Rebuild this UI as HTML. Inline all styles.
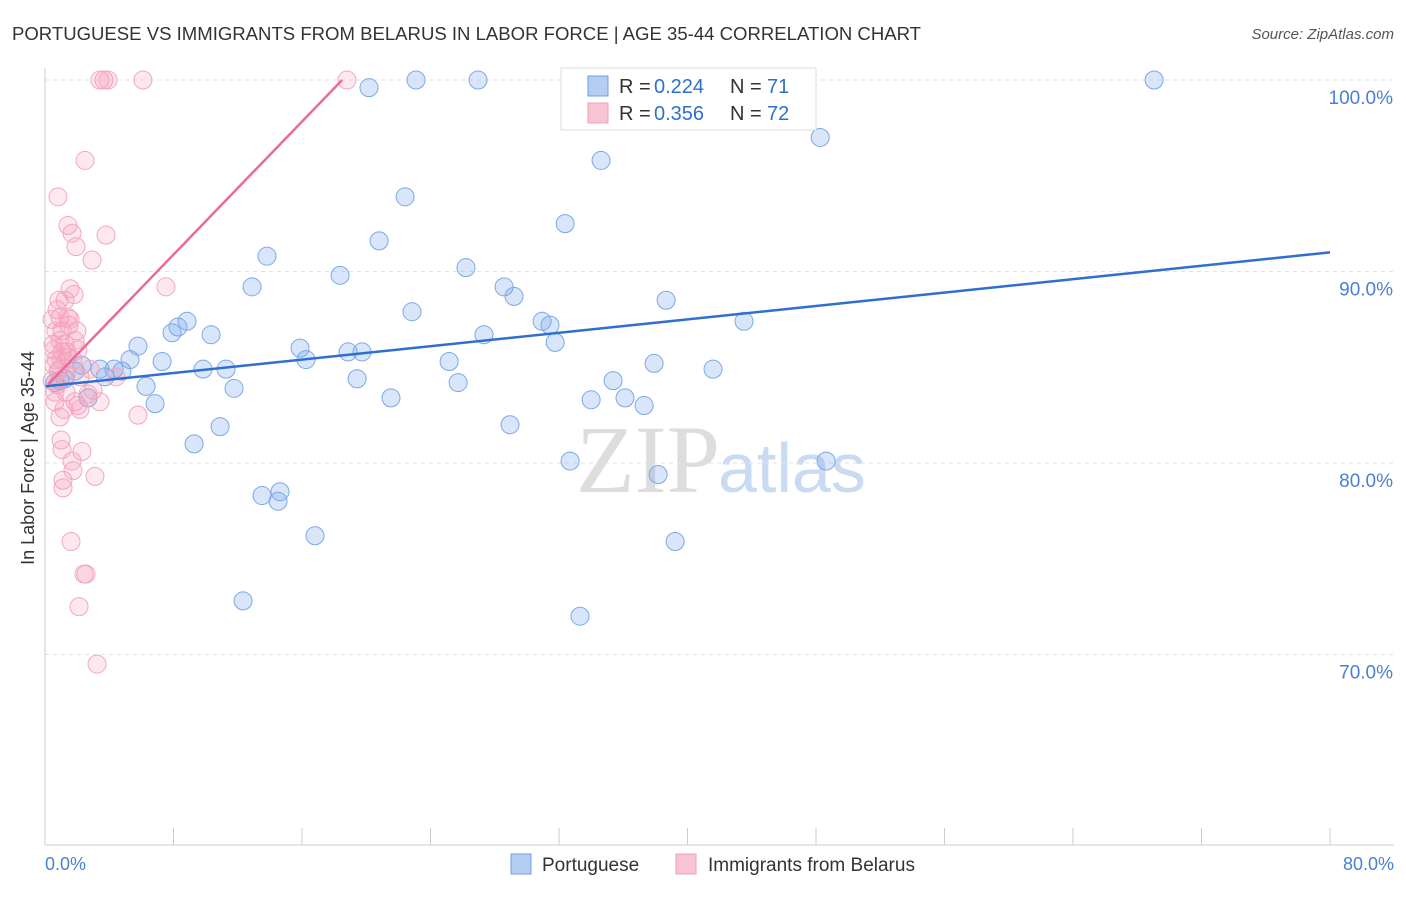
<!DOCTYPE html>
<html><head><meta charset="utf-8"><style>
body{margin:0;background:#fff;font-family:"Liberation Sans",sans-serif;}
</style></head><body>
<svg width="1406" height="892" xmlns="http://www.w3.org/2000/svg" id="chart">
<text x="12" y="40" font-size="18" fill="#333" textLength="909" lengthAdjust="spacingAndGlyphs">PORTUGUESE VS IMMIGRANTS FROM BELARUS IN LABOR FORCE | AGE 35-44 CORRELATION CHART</text>
<text x="1394" y="39" font-size="15" fill="#555" font-style="italic" text-anchor="end">Source: ZipAtlas.com</text>
<text x="720" y="492" font-size="96" fill="#ddd" text-anchor="end" font-family="Liberation Serif,serif">ZIP</text>
<text x="718" y="492" font-size="70" fill="#c9daf3">atlas</text>
<g id="grid"></g><g id="pts"></g><g id="lines"></g>
<line x1="45" y1="68" x2="45" y2="845" stroke="#ccc"/>
<line x1="45" y1="845" x2="1394" y2="845" stroke="#ccc"/>
<text x="45" y="870" font-size="18" fill="#4a7fd4">0.0%</text>
<text x="1394" y="870" font-size="18" fill="#4a7fd4" text-anchor="end">80.0%</text>
<text transform="translate(34,458) rotate(-90)" font-size="18" fill="#333" text-anchor="middle">In Labor Force | Age 35-44</text>
<g>
<rect x="561" y="68" width="255" height="62" fill="#fff" stroke="#ddd"/>
<rect x="588" y="76" width="20" height="20" fill="#b5cdf3" stroke="#6a9ee8"/>
<text x="619" y="93" font-size="20" fill="#333">R =</text>
<text x="654" y="93" font-size="20" fill="#2f6fd0">0.224</text>
<text x="730" y="93" font-size="20" fill="#333">N =</text>
<text x="767" y="93" font-size="20" fill="#2f6fd0">71</text>
<rect x="588" y="103" width="20" height="20" fill="#f8c4d3" stroke="#f0a0b8"/>
<text x="619" y="120" font-size="20" fill="#333">R =</text>
<text x="654" y="120" font-size="20" fill="#2f6fd0">0.356</text>
<text x="730" y="120" font-size="20" fill="#333">N =</text>
<text x="767" y="120" font-size="20" fill="#2f6fd0">72</text>
</g>
<g>
<rect x="511" y="854" width="20" height="20" fill="#b5cdf3" stroke="#6a9ee8"/>
<text x="542" y="871" font-size="19" fill="#333">Portuguese</text>
<rect x="676" y="854" width="20" height="20" fill="#f8c4d3" stroke="#f0a0b8"/>
<text x="708" y="871" font-size="19" fill="#333">Immigrants from Belarus</text>
</g>
</svg>
<script>
const yTicks=[100,90,80,70];
const yTickLabels=["100.0%","90.0%","80.0%","70.0%"];
const xTicks=[8,16,24,32,40,48,56,64,72,80];
const blueX=[.62,.93,1.25,1.87,2.30,2.68,3.42,3.74,4.30,4.79,5.29,5.79,6.29,6.85,7.29,7.91,8.28,8.84,9.28,9.84,10.34,10.90,11.27,11.77,12.33,12.89,13.51,13.82,14.51,14.63,15.88,16.25,16.81,18.37,18.87,19.43,19.74,20.17,20.80,21.54,22.42,22.85,23.10,25.16,25.72,26.21,26.96,27.33,28.58,28.95,29.20,30.95,31.44,31.76,32.38,32.69,33.31,34.00,34.62,35.37,36.11,37.30,37.92,38.17,38.67,39.23,41.59,43.52,48.26,48.63,69.05];
const blueY=[84.2,84.3,84.4,84.8,85.1,83.4,84.9,84.5,84.9,84.8,85.4,86.1,84.0,83.1,85.3,86.8,87.1,87.4,81.0,84.9,86.7,81.9,84.9,83.9,72.8,89.2,78.3,90.8,78.0,78.5,86.0,85.4,76.2,89.8,85.8,84.4,85.8,99.6,91.6,83.4,93.9,87.9,100,85.3,84.2,90.2,100,86.7,89.2,82.0,88.7,87.4,87.2,86.3,92.5,80.1,72.0,83.3,95.8,84.3,83.4,83.0,85.2,79.4,88.5,75.9,84.9,87.4,97.0,80.1,100];
const pinkX=[.44,.50,.56,.62,.68,.75,.81,.93,1.0,1.12,.93,1.06,1.12,1.25,1.31,1.43,1.43,1.49,1.56,1.62,1.68,1.74,1.81,1.87,1.93,1.99,2.05,2.05,2.12,2.18,2.30,2.43,2.49,2.55,2.80,2.93,2.99,3.11,3.24,3.42,3.42,3.67,3.80,3.92,4.42,5.79,6.10,7.53,18.80,.75,1.06,1.25,.93,.44,.56,.81,1.31,1.56,.93,1.18,.62,1.68,1.06,1.43,1.87,.68,.87,1.37,1.74,2.18,2.68,1.0];
const pinkY=[84.3,86.2,85.1,83.2,85.4,84.1,93.9,82.4,81.2,79.1,87.6,85.8,78.7,86.2,83.7,85.5,92.4,87.2,89.1,75.9,92.0,79.6,88.8,83.2,91.3,86.9,85.9,83.0,72.5,84.5,80.6,74.2,95.8,74.2,84.9,90.6,83.8,79.3,69.5,83.2,100,100,91.9,100,84.5,82.5,100,89.2,100,88.0,86.9,88.5,86.4,87.5,85.9,84.8,84.6,87.5,84.9,82.8,83.7,80.1,80.7,87.6,86.4,86.9,88.5,85.8,85.4,82.8,83.6,85.4];
const blueTrend=[0,84.0,80,91.0];
const pinkTrend=[0.19,84.1,18.5,100];
const NS="http://www.w3.org/2000/svg";
function sx(v){return 45+v*(1285/80);}
function sy(v){return 80+(100-v)*19.15;}
function mk(t,a,p){const e=document.createElementNS(NS,t);for(const k in a)e.setAttribute(k,a[k]);document.getElementById(p).appendChild(e);return e;}
yTicks.forEach((t,i)=>{
 const l=mk('line',{x1:45,x2:1394,y1:sy(t),y2:sy(t),stroke:'#e2e2e2','stroke-dasharray':'4,4'},'grid');
 
 
 const tx=mk('text',{x:1393,y:sy(t)+24,'font-size':19,fill:'#4a7fd4','text-anchor':'end'},'grid');
 tx.textContent=yTickLabels[i];
 
 
});
xTicks.forEach(t=>{
 const l=mk('line',{x1:sx(t),x2:sx(t),y1:828,y2:845,stroke:'#ccc'},'grid');
 
 
});
blueX.forEach((x,i)=>{
 const c=mk('circle',{cx:sx(x),cy:sy(blueY[i]),r:9,fill:'rgba(120,165,235,0.28)',stroke:'#7aa8ea','stroke-width':1},'pts');
 
 
});
pinkX.forEach((x,i)=>{
 const c=mk('circle',{cx:sx(x),cy:sy(pinkY[i]),r:9,fill:'rgba(245,150,180,0.22)',stroke:'#f2a8be','stroke-width':1},'pts');
 
 
});
const bl=mk('line',{x1:sx(blueTrend[0]),y1:sy(blueTrend[1]),x2:sx(blueTrend[2]),y2:sy(blueTrend[3]),stroke:'#2f6fd0','stroke-width':2.5},'lines');


const pl=mk('line',{x1:sx(pinkTrend[0]),y1:sy(pinkTrend[1]),x2:sx(pinkTrend[2]),y2:sy(pinkTrend[3]),stroke:'#ec6a96','stroke-width':2.5},'lines');


</script>
</body></html>
